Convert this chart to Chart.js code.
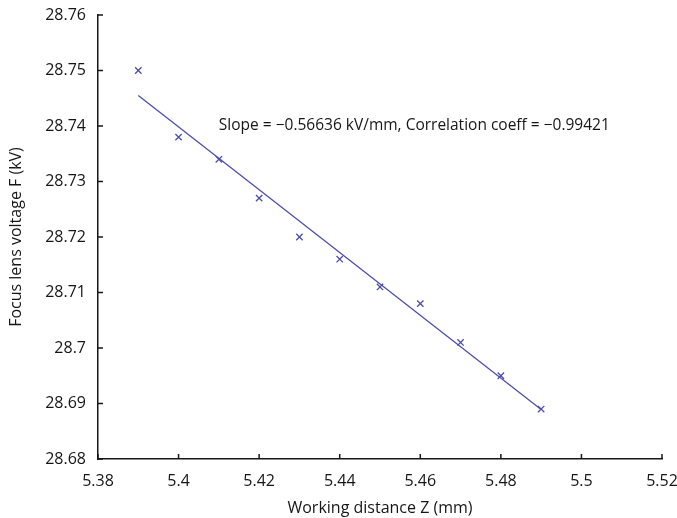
<!DOCTYPE html>
<html>
<head>
<meta charset="utf-8">
<script src="https://cdn.jsdelivr.net/npm/chart.js@4.4.0/dist/chart.umd.min.js"></script>
<style>
  html, body { margin: 0; padding: 0; background: #fff; }
  #wrap { width: 677px; height: 518px; }
</style>
</head>
<body>
<div id="wrap"><canvas id="focus"></canvas></div>
<script>
// measured points
const distance = [5.39, 5.40, 5.41, 5.42, 5.43, 5.44, 5.45, 5.46, 5.47, 5.48, 5.49];
const voltage = [28.750, 28.738, 28.734, 28.727, 28.720, 28.716, 28.711, 28.708, 28.701, 28.695, 28.689];

// fitted line end points
const fitX = [5.39, 5.49];
const fitY = [28.7455, 28.6889];

const fitText = 'Slope = \u22120.56636 kV/mm, Correlation coeff = \u22120.99421';
const blue = '#4d4dab';
const ink = '#161616';
const fontName = "'Open Sans', 'Noto Sans', sans-serif";

// small ticks pointing into the plot, plus the note
const innerTicks = {
    id: 'innerTicks',
    afterDraw(chart) {
        const ctx = chart.ctx;
        const x = chart.scales.x, y = chart.scales.y;
        ctx.save();
        ctx.strokeStyle = ink;
        ctx.lineWidth = 1.5;
        x.ticks.forEach(t => {
            const px = x.getPixelForValue(t.value);
            ctx.beginPath();
            ctx.moveTo(px, y.bottom);
            ctx.lineTo(px, y.bottom - 5);
            ctx.stroke();
        });
        y.ticks.forEach(t => {
            const py = y.getPixelForValue(t.value);
            ctx.beginPath();
            ctx.moveTo(x.left, py);
            ctx.lineTo(x.left + 5, py);
            ctx.stroke();
        });
        ctx.fillStyle = ink;
        ctx.font = '15.5px ' + fontName;
        ctx.textBaseline = 'middle';
        ctx.textAlign = 'left';
        ctx.fillText(fitText, x.getPixelForValue(5.410), y.getPixelForValue(28.7400));
        ctx.restore();
    }
};

const focus = document.getElementById('focus');

new Chart(focus, {
    type: 'scatter',
    data: {
        datasets: [{
            label: 'Measured',
            data: distance.map((d, i) => ({ x: d, y: voltage[i] })),
            pointStyle: 'crossRot',
            pointRadius: 4.5,
            borderColor: blue,
            borderWidth: 1.3,
            showLine: false
        }, {
            label: 'Fit',
            data: fitX.map((d, i) => ({ x: d, y: fitY[i] })),
            showLine: true,
            pointRadius: 0,
            borderColor: blue,
            borderWidth: 1.3
        }]
    },
    options: {
        responsive: true,
        maintainAspectRatio: false,
        animation: false,
        layout: { padding: { top: 15, right: 15, left: 0, bottom: 0 } },
        plugins: {
            legend: { display: false },
            tooltip: { enabled: false }
        },
        scales: {
            x: {
                type: 'linear',
                min: 5.38,
                max: 5.52,
                ticks: {
                    stepSize: 0.02,
                    color: ink,
                    padding: 13,
                    font: { family: fontName, size: 16 },
                    callback: v => String(parseFloat(v.toFixed(2)))
                },
                grid: { display: false, drawTicks: false },
                border: { display: true, color: ink, width: 1.5 },
                title: {
                    display: true,
                    text: 'Working distance Z (mm)',
                    color: ink,
                    font: { family: fontName, size: 16 },
                    padding: { top: 0, bottom: 0 }
                },
                afterFit: s => { s.height = 59; s.paddingLeft = 0; s.paddingRight = 0; }
            },
            y: {
                min: 28.68,
                max: 28.76,
                ticks: {
                    stepSize: 0.01,
                    color: ink,
                    padding: 12,
                    font: { family: fontName, size: 16 },
                    callback: v => String(parseFloat(v.toFixed(2)))
                },
                grid: { display: false, drawTicks: false },
                border: { display: true, color: ink, width: 1.5 },
                title: {
                    display: true,
                    text: 'Focus lens voltage F (kV)',
                    color: ink,
                    font: { family: fontName, size: 16 },
                    padding: { top: 7, bottom: 0 }
                },
                afterFit: s => { s.width = 98; s.paddingTop = 0; s.paddingBottom = 0; }
            }
        }
    },
    plugins: [innerTicks]
});
</script>
</body>
</html>
